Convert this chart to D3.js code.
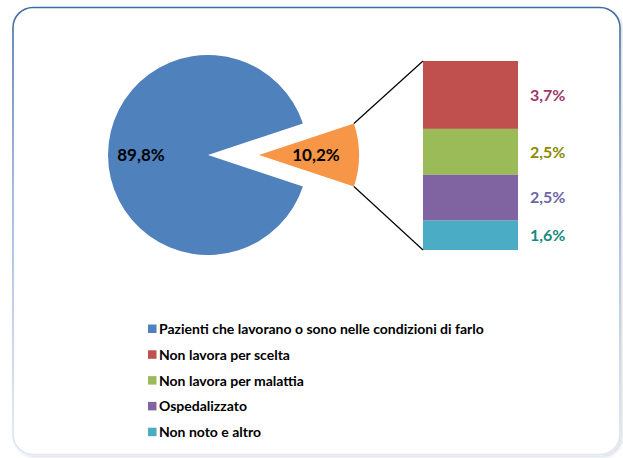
<!DOCTYPE html>
<html>
<head>
<meta charset="utf-8">
<script src="https://cdn.jsdelivr.net/npm/d3@7"></script>
<style>
  html, body { margin: 0; padding: 0; background: #fff; }
  svg { display: block; }
  text { font-family: Lato, "Open Sans", sans-serif; font-weight: bold; }
</style>
</head>
<body>
<div id="chart"></div>
<script>
// main pie
var mainNames = ["Pazienti che lavorano o sono nelle condizioni di farlo", "Non lavorano"];
var mainValues = [89.8, 10.2];
var mainLabels = ["89,8%", "10,2%"];

// breakdown of the small slice
var subNames = ["Non lavora per scelta", "Non lavora per malattia", "Ospedalizzato", "Non noto e altro"];
var subValues = [3.7, 2.5, 2.5, 1.6];
var subLabels = ["3,7%", "2,5%", "2,5%", "1,6%"];

var legendNames = [mainNames[0]].concat(subNames);

var mainColors = ["#4f81bd", "#f79646"];
var subColors = ["#c0504d", "#9bbb59", "#8064a2", "#4bacc6"];
var subTextColors = ["#9c3a6a", "#8a8a00", "#6a66a6", "#178a80"];

var width = 623, height = 458;

var svg = d3.select("#chart").append("svg")
  .attr("width", width)
  .attr("height", height);

var defs = svg.append("defs");
var grad = defs.append("linearGradient")
  .attr("id", "frameGrad")
  .attr("x1", 0).attr("y1", 0).attr("x2", 0).attr("y2", 1);
grad.append("stop").attr("offset", "0%").attr("stop-color", "#3f6aa3");
grad.append("stop").attr("offset", "40%").attr("stop-color", "#8eaad6");
grad.append("stop").attr("offset", "100%").attr("stop-color", "#dfe8f6");

var shadow = defs.append("filter").attr("id", "shadow")
  .attr("x", "-5%").attr("y", "-5%").attr("width", "110%").attr("height", "110%");
shadow.append("feDropShadow")
  .attr("dx", 2).attr("dy", 2).attr("stdDeviation", 1.5)
  .attr("flood-color", "#000").attr("flood-opacity", 0.12);

// frame
svg.append("rect")
  .attr("x", 13).attr("y", 7.5)
  .attr("width", 607).attr("height", 447)
  .attr("rx", 20).attr("ry", 20)
  .attr("fill", "#fff")
  .attr("stroke", "url(#frameGrad)")
  .attr("stroke-width", 1.6)
  .attr("filter", "url(#shadow)");

// pie
var radius = 100, explode = 51;
var cx = 208, cy = 155;
var half = Math.PI * mainValues[1] / d3.sum(mainValues);

var pie = d3.pie()
  .sort(null)
  .value(function (d) { return d; })
  .startAngle(Math.PI / 2 + half)
  .endAngle(Math.PI / 2 + half + 2 * Math.PI);

var arc = d3.arc().innerRadius(0).outerRadius(radius);
var arcs = pie(mainValues);

function offsetOf(d, i) {
  if (i === 0) return [0, 0];
  var a = (d.startAngle + d.endAngle) / 2;
  return [explode * Math.sin(a), -explode * Math.cos(a)];
}

var pieG = svg.append("g")
  .attr("transform", "translate(" + cx + "," + cy + ")");

var slices = pieG.selectAll("g.slice")
  .data(arcs)
  .enter().append("g")
  .attr("class", "slice")
  .attr("transform", function (d, i) {
    var o = offsetOf(d, i);
    return "translate(" + o[0] + "," + o[1] + ")";
  });

slices.append("path")
  .attr("d", arc)
  .attr("fill", function (d, i) { return mainColors[i]; });

slices.append("text")
  .attr("transform", function (d, i) {
    var a = (d.startAngle + d.endAngle) / 2;
    var r = i === 0 ? 67 : 57;
    return "translate(" + (r * Math.sin(a)) + "," + (-r * Math.cos(a)) + ")";
  })
  .attr("text-anchor", "middle")
  .attr("dy", "0.36em")
  .attr("font-size", 17)
  .attr("fill", "#000")
  .text(function (d, i) { return mainLabels[i]; });

// stacked bar
var barX = 423, barW = 95;
var y = d3.scaleLinear()
  .domain([0, d3.sum(subValues)])
  .range([61, 250]);

var cum = 0;
var segs = subValues.map(function (v) {
  var s = { y0: cum, y1: cum + v };
  cum += v;
  return s;
});

svg.selectAll("rect.seg")
  .data(segs)
  .enter().append("rect")
  .attr("class", "seg")
  .attr("x", barX)
  .attr("y", function (d) { return y(d.y0); })
  .attr("width", barW)
  .attr("height", function (d) { return y(d.y1) - y(d.y0); })
  .attr("fill", function (d, i) { return subColors[i]; });

svg.selectAll("text.seglabel")
  .data(segs)
  .enter().append("text")
  .attr("class", "seglabel")
  .attr("x", barX + barW + 12)
  .attr("y", function (d) { return (y(d.y0) + y(d.y1)) / 2; })
  .attr("dy", "0.36em")
  .attr("font-size", 16)
  .attr("fill", function (d, i) { return subTextColors[i]; })
  .text(function (d, i) { return subLabels[i]; });

// connector lines from the exploded slice to the bar
var small = arcs[1];
var so = offsetOf(small, 1);
function corner(a) {
  return [cx + so[0] + radius * Math.sin(a), cy + so[1] - radius * Math.cos(a)];
}
var pTop = corner(small.startAngle);
var pBot = corner(small.endAngle);
var lines = [
  [pTop, [barX, y(0)]],
  [pBot, [barX, y(d3.sum(subValues))]]
];
svg.selectAll("line.conn")
  .data(lines)
  .enter().append("line")
  .attr("class", "conn")
  .attr("x1", function (d) { return d[0][0]; })
  .attr("y1", function (d) { return d[0][1]; })
  .attr("x2", function (d) { return d[1][0]; })
  .attr("y2", function (d) { return d[1][1]; })
  .attr("stroke", "#000")
  .attr("stroke-width", 1.2);

// legend
var legendColors = [mainColors[0]].concat(subColors);
var legend = svg.append("g")
  .attr("transform", "translate(148,329)");

var items = legend.selectAll("g.item")
  .data(legendNames)
  .enter().append("g")
  .attr("class", "item")
  .attr("transform", function (d, i) { return "translate(0," + (i * 25.8) + ")"; });

items.append("rect")
  .attr("x", 0).attr("y", -4.5)
  .attr("width", 8.5).attr("height", 8.5)
  .attr("fill", function (d, i) { return legendColors[i]; });

items.append("text")
  .attr("x", 11)
  .attr("dy", "0.36em")
  .attr("font-size", 14)
  .attr("fill", "#000")
  .text(function (d) { return d; });
</script>
</body>
</html>
